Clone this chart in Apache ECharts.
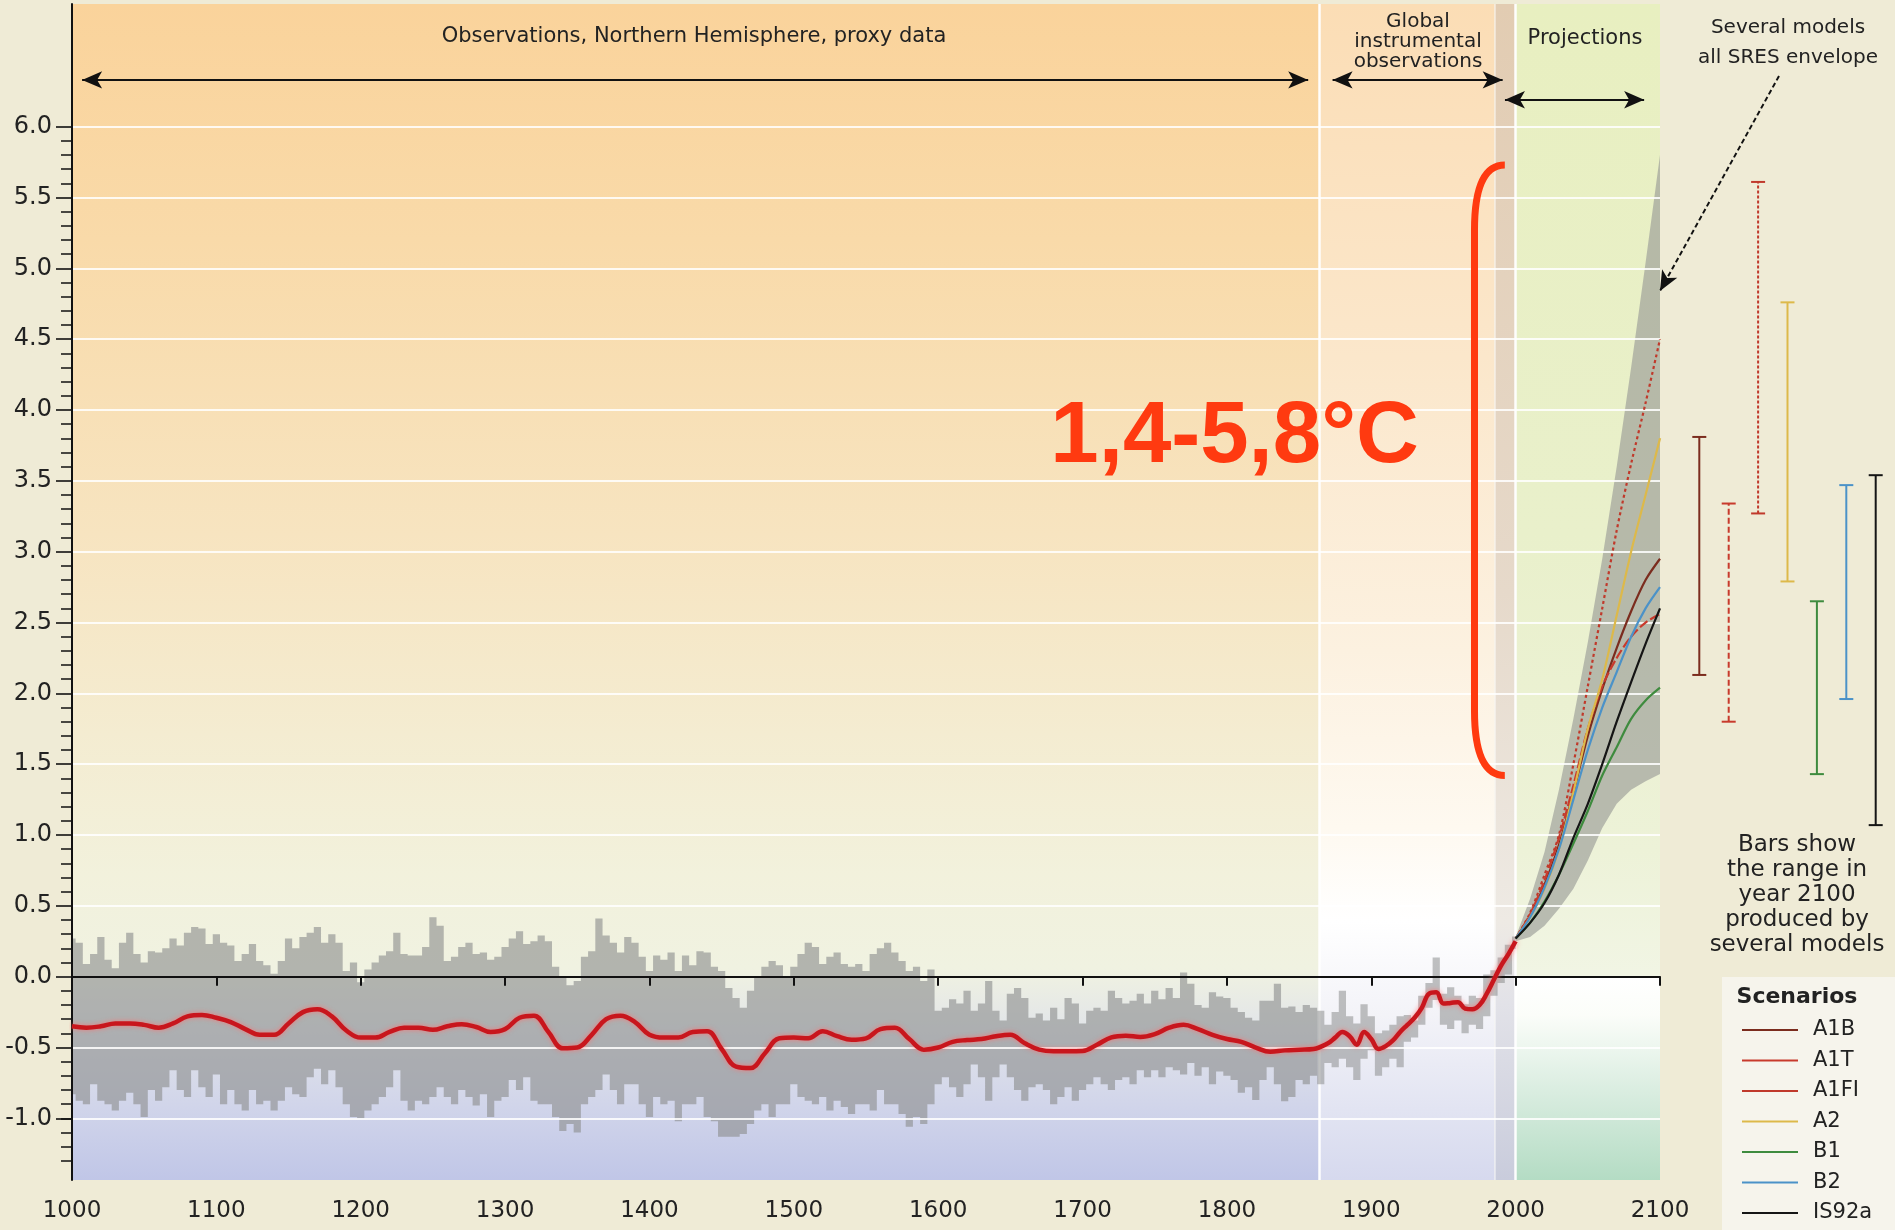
<!DOCTYPE html>
<html><head><meta charset="utf-8">
<script src="https://cdn.jsdelivr.net/npm/echarts@6/dist/echarts.min.js"></script>
<style>html,body{margin:0;padding:0;background:#EFEBD6;}#c{width:1895px;height:1230px;}</style>
</head><body><div id="c"></div>
<script>
// ---------------- DATA ----------------
// smoothed Northern Hemisphere reconstruction + instrumental (red line)
const redYears = [1000,1010,1020,1030,1040,1050,1060,1070,1080,1090,
 1100,1110,1120,1130,1140,1150,1160,1170,1180,1190,
 1200,1210,1220,1230,1240,1250,1260,1270,1280,1290,
 1300,1310,1320,1330,1340,1350,1360,1370,1380,1390,
 1400,1410,1420,1430,1440,1450,1460,1470,1480,1490,
 1500,1510,1520,1530,1540,1550,1560,1570,1580,1590,
 1600,1610,1620,1630,1640,1650,1660,1670,1680,1690,
 1700,1710,1720,1730,1740,1750,1760,1770,1780,1790,
 1800,1810,1820,1830,1840,1850,1860,
 1870,1875,1880,1885,1890,1895,1900,1905,1910,1915,1920,1925,1930,1935,1940,1945,
 1950,1955,1960,1965,1970,1975,1980,1985,1990,1995,2000];
const redValues = [-0.35,-0.36,-0.35,-0.33,-0.33,-0.34,-0.36,-0.33,-0.28,-0.27,
 -0.29,-0.32,-0.37,-0.41,-0.41,-0.33,-0.25,-0.23,-0.28,-0.38,
 -0.43,-0.43,-0.39,-0.36,-0.36,-0.375,-0.35,-0.335,-0.355,-0.39,
 -0.37,-0.29,-0.275,-0.39,-0.505,-0.5,-0.41,-0.3,-0.275,-0.32,
 -0.41,-0.43,-0.43,-0.39,-0.385,-0.51,-0.635,-0.645,-0.54,-0.435,
 -0.43,-0.435,-0.385,-0.42,-0.445,-0.435,-0.37,-0.36,-0.44,-0.515,
 -0.5,-0.46,-0.447,-0.44,-0.42,-0.41,-0.47,-0.515,-0.527,-0.527,
 -0.525,-0.48,-0.428,-0.416,-0.425,-0.405,-0.36,-0.34,-0.37,-0.41,
 -0.44,-0.46,-0.5,-0.53,-0.52,-0.515,-0.51,
 -0.47,-0.43,-0.39,-0.42,-0.48,-0.39,-0.44,-0.51,-0.49,-0.45,-0.39,-0.34,-0.29,-0.22,-0.12,-0.11,
 -0.19,-0.185,-0.18,-0.225,-0.23,-0.2,-0.12,-0.02,0.08,0.16,0.25];

// proxy uncertainty band, 1000..1860 every 5 years
const proxyStartYear = 1000, proxyStep = 5;
const proxyUpper = [0.27,0.24,0.09,0.16,0.28,0.12,0.06,0.24,0.31,0.16,
 0.10,0.18,0.17,0.20,0.27,0.22,0.31,0.35,0.34,0.23,
 0.30,0.24,0.22,0.11,0.16,0.23,0.11,0.08,0.02,0.11,
 0.27,0.20,0.28,0.31,0.35,0.24,0.30,0.24,0.04,0.10,
 -0.04,0.05,0.10,0.15,0.18,0.31,0.16,0.15,0.15,0.21,
 0.42,0.36,0.11,0.14,0.21,0.24,0.16,0.17,0.12,0.14,
 0.21,0.27,0.32,0.23,0.25,0.29,0.25,0.07,0.00,-0.06,
 -0.03,0.14,0.18,0.41,0.29,0.24,0.17,0.28,0.24,0.14,
 0.04,0.15,0.12,0.17,0.04,0.15,0.08,0.18,0.17,0.07,
 0.04,-0.08,-0.15,-0.22,-0.10,0.00,0.07,0.11,0.08,0.00,
 0.07,0.16,0.24,0.21,0.09,0.14,0.17,0.09,0.07,0.09,
 0.04,0.16,0.20,0.24,0.17,0.11,0.04,0.07,-0.03,0.05,
 -0.24,-0.22,-0.16,-0.19,-0.10,-0.24,-0.19,-0.03,-0.24,-0.31,
 -0.12,-0.08,-0.15,-0.29,-0.26,-0.31,-0.22,-0.30,-0.15,-0.19,
 -0.33,-0.24,-0.22,-0.24,-0.10,-0.15,-0.19,-0.17,-0.12,-0.19,
 -0.10,-0.16,-0.08,-0.15,0.03,-0.05,-0.20,-0.22,-0.11,-0.14,
 -0.15,-0.22,-0.25,-0.29,-0.31,-0.17,-0.17,-0.05,-0.22,-0.21,
 -0.25,-0.20,-0.22];
const proxyLower = [-0.83,-0.875,-0.90,-0.76,-0.875,-0.90,-0.945,-0.875,-0.82,-0.90,
 -0.99,-0.80,-0.875,-0.78,-0.66,-0.80,-0.85,-0.66,-0.78,-0.85,
 -0.69,-0.90,-0.80,-0.90,-0.945,-0.80,-0.90,-0.875,-0.945,-0.875,
 -0.78,-0.83,-0.85,-0.71,-0.65,-0.76,-0.66,-0.78,-0.90,-0.99,
 -1.00,-0.945,-0.90,-0.85,-0.78,-0.66,-0.875,-0.945,-0.875,-0.90,
 -0.85,-0.78,-0.85,-0.90,-0.80,-0.85,-0.91,-0.83,-0.99,-0.875,
 -0.85,-0.73,-0.80,-0.71,-0.875,-0.90,-0.90,-0.99,-1.09,-1.04,
 -1.10,-0.90,-0.85,-0.80,-0.69,-0.80,-0.90,-0.76,-0.76,-0.90,
 -0.99,-0.85,-0.90,-0.875,-1.02,-0.90,-0.90,-0.85,-0.99,-1.02,
 -1.13,-1.13,-1.13,-1.11,-1.04,-0.945,-0.90,-0.99,-0.90,-0.90,
 -0.76,-0.85,-0.875,-0.90,-0.85,-0.945,-0.875,-0.92,-0.97,-0.90,
 -0.90,-0.945,-0.80,-0.90,-0.90,-0.97,-1.06,-0.99,-1.04,-0.90,
 -0.76,-0.71,-0.78,-0.85,-0.76,-0.62,-0.71,-0.875,-0.71,-0.62,
 -0.71,-0.80,-0.875,-0.78,-0.76,-0.80,-0.90,-0.85,-0.78,-0.875,
 -0.80,-0.76,-0.71,-0.76,-0.80,-0.73,-0.71,-0.76,-0.66,-0.71,
 -0.66,-0.71,-0.64,-0.66,-0.69,-0.61,-0.70,-0.64,-0.76,-0.67,
 -0.70,-0.73,-0.82,-0.78,-0.87,-0.73,-0.64,-0.76,-0.88,-0.85,
 -0.73,-0.76,-0.70];

// instrumental band, 1865..2000 every 5 years
const instStartYear = 1865, instStep = 5;
const instUpper = [-0.24,-0.34,-0.25,-0.10,-0.28,-0.33,-0.195,-0.28,-0.40,-0.38,-0.34,-0.28,-0.27,-0.31,
 -0.135,-0.045,0.135,-0.12,-0.075,-0.135,-0.195,-0.135,-0.15,0.015,0.045,0.135,0.225,0.284];
const instLower = [-0.76,-0.61,-0.64,-0.58,-0.64,-0.73,-0.58,-0.52,-0.70,-0.64,-0.58,-0.64,-0.46,-0.43,
 -0.34,-0.22,-0.165,-0.34,-0.37,-0.31,-0.40,-0.34,-0.37,-0.28,-0.135,-0.045,0.015,0.195];

// projections 2000..2100
const projYears = [2000,2010,2020,2030,2040,2050,2060,2070,2080,2090,2100];
const envUpper = [0.28,0.55,0.88,1.32,1.82,2.36,2.95,3.6,4.3,5.04,5.8];
const envLower = [0.25,0.28,0.36,0.48,0.62,0.82,1.05,1.22,1.32,1.38,1.43];

const scenarioNames = ['A1B','A1T','A1FI','A2','B1','B2','IS92a'];
const sA1B  = [0.27,0.43,0.65,0.93,1.30,1.70,2.03,2.32,2.58,2.80,2.95];
const sA1T  = [0.27,0.44,0.68,0.98,1.35,1.75,2.05,2.25,2.40,2.50,2.56];
const sA1FI = [0.27,0.45,0.72,1.00,1.50,2.05,2.60,3.15,3.62,4.05,4.50];
const sA2   = [0.27,0.42,0.62,0.90,1.30,1.75,2.10,2.55,3.00,3.40,3.80];
const sB1   = [0.27,0.38,0.53,0.72,0.94,1.17,1.42,1.62,1.82,1.95,2.04];
const sB2   = [0.27,0.42,0.63,0.90,1.25,1.60,1.90,2.15,2.40,2.60,2.75];
const sIS92a= [0.27,0.38,0.52,0.72,0.98,1.22,1.50,1.80,2.08,2.35,2.60];
const scenarioValues = [sA1B,sA1T,sA1FI,sA2,sB1,sB2,sIS92a];

// ranges in 2100 from several models
const bar2100Low  = [2.13,1.80,3.27,2.79,1.43,1.96,1.07];
const bar2100High = [3.81,3.34,5.61,4.76,2.65,3.47,3.54];

const rangeText = '1,4-5,8°C';
const bracketRange = [1.42, 5.73];

// ---------------- STYLES ----------------
const scenStyle = [
 {color:'#7B2C1E', dash:'solid', bar:null},
 {color:'#C83A2C', dash:[10,3], bar:[6,3]},
 {color:'#C0392B', dash:[3,3], bar:[3,2]},
 {color:'#DDB94A', dash:'solid', bar:null},
 {color:'#3E8B3E', dash:'solid', bar:null},
 {color:'#4B92C8', dash:'solid', bar:null},
 {color:'#151515', dash:'solid', bar:null}
];
const Y_MIN = -1.435, Y_MAX = 6.866;
const FONT = '"DejaVu Sans", sans-serif';

function grad(stops){return {type:'linear',x:0,y:0,x2:0,y2:1,colorStops:stops.map(s=>({offset:s[0],color:s[1]}))};}
const regions = [
 [1000,1864,[[0,'#FAD39B'],[0.2,'#F9DAA9'],[0.45,'#F7E4C0'],[0.62,'#F4ECD1'],[0.74,'#F2F1DC'],[0.82,'#F0F2E1'],[0.87,'#E2E5E9'],[0.94,'#D0D4EA'],[1,'#C0C6E7']]],
 [1864,1985.5,[[0,'#FBDDB5'],[0.3,'#FBE7CB'],[0.55,'#FCF1E0'],[0.7,'#FEF9F0'],[0.78,'#FFFFFF'],[0.86,'#F3F3F8'],[0.94,'#E2E4F2'],[1,'#D6D9EE']]],
 [1985.5,2000,[[0,'#E2CCB2'],[0.5,'#E6D9CA'],[0.78,'#EEEAE4'],[0.85,'#E2E2E8'],[1,'#C9CCDC']]],
 [2000,2100,[[0,'#E8EFC0'],[0.45,'#E9F0CB'],[0.72,'#EDF2D8'],[0.826,'#F1F5E4'],[0.828,'#FFFFFF'],[0.86,'#FBFDF9'],[0.92,'#DCEEE2'],[1,'#B4DCC4']]]
];

function bandPoints(api,start,step,up,lo,xmin,xmax){
  const t=[],b=[];
  for(let i=0;i<up.length;i++){
    const yr=start+i*step;
    const a=Math.max(xmin,yr-step/2), c=Math.min(xmax,yr+step/2);
    t.push(api.coord([a,up[i]]),api.coord([c,up[i]]));
    b.push(api.coord([a,lo[i]]),api.coord([c,lo[i]]));
  }
  return t.concat(b.reverse());
}
const bandFill = 'rgba(140,142,142,0.62)';

const series = [];
// backgrounds
series.push({type:'line', data:[], xAxisIndex:0, yAxisIndex:0, silent:true,
  markArea:{silent:true, z:1, data: regions.map(r=>[{xAxis:r[0],yAxis:Y_MIN,itemStyle:{color:grad(r[2]),opacity:1,borderWidth:0}},{xAxis:r[1],yAxis:Y_MAX}])},
  markLine:{silent:true, z:1.5, symbol:['none','none'], label:{show:false},
    data:[{xAxis:1864,lineStyle:{color:'#FFFFFF',width:2.5,type:'solid',opacity:0.95}},
          {xAxis:1985.5,lineStyle:{color:'#FFFFFF',width:1.5,type:'solid',opacity:0.6}},
          {xAxis:2000,lineStyle:{color:'#FFFFFF',width:2.5,type:'solid',opacity:0.95}}]}
});
// proxy band
series.push({type:'custom', z:2, silent:true, data:[[1000,0]], renderItem:(p,api)=>{
  if(p.dataIndex!==0) return;
  return {type:'polygon', shape:{points:bandPoints(api,proxyStartYear,proxyStep,proxyUpper,proxyLower,1000,1862.5)}, style:{fill:bandFill}};
}});
// instrumental band
series.push({type:'custom', z:2, silent:true, data:[[1900,0]], renderItem:(p,api)=>{
  if(p.dataIndex!==0) return;
  return {type:'polygon', shape:{points:bandPoints(api,instStartYear,instStep,instUpper,instLower,1862.5,2000)}, style:{fill:'rgba(140,142,142,0.55)'}};
}});
// projection envelope
series.push({type:'custom', z:2, silent:true, data:[[2000,0]], renderItem:(p,api)=>{
  if(p.dataIndex!==0) return;
  const pts=[];
  projYears.forEach((y,i)=>pts.push(api.coord([y,envUpper[i]])));
  for(let i=projYears.length-1;i>=0;i--) pts.push(api.coord([projYears[i],envLower[i]]));
  return {type:'polygon', shape:{points:pts}, style:{fill:'rgba(150,152,148,0.62)'}};
}});
// red line
series.push({type:'line', name:'NH', z:5, smooth:0.4, symbol:'none', silent:true,
  data: redYears.map((y,i)=>[y,redValues[i]]),
  lineStyle:{color:'#C8161D', width:4.5, shadowColor:'rgba(255,110,110,0.8)', shadowBlur:5}});
// scenarios
scenarioNames.forEach((n,i)=>{
  series.push({type:'line', name:n, z:5, smooth:0.3, symbol:'none', silent:true, color:scenStyle[i].color,
    data: projYears.map((y,k)=>[y,scenarioValues[i][k]]),
    lineStyle:{color:scenStyle[i].color, width:2.2, type:scenStyle[i].dash}});
});
// bracket + big text
series.push({type:'custom', z:6, silent:true, data:[[1971.5,0]], renderItem:(p,api)=>{
  if(p.dataIndex!==0) return;
  const top=api.coord([1992.5,bracketRange[1]]), bot=api.coord([1992.5,bracketRange[0]]);
  const vx=api.coord([1971.5,0])[0];
  const r=65;
  const d=`M ${top[0]} ${top[1]} Q ${vx} ${top[1]} ${vx} ${top[1]+r} L ${vx} ${bot[1]-r} Q ${vx} ${bot[1]} ${bot[0]} ${bot[1]}`;
  const tp=api.coord([1805.3,3.80]);
  return {type:'group', children:[
    {type:'path', shape:{pathData:d}, style:{stroke:'#FF3A10', lineWidth:7, fill:null, lineCap:'butt'}},
    {type:'text', x:tp[0], y:tp[1], style:{text:rangeText, font:'bold 87px "Liberation Sans", Arial, sans-serif', fill:'#FF3A10', align:'center', verticalAlign:'middle'}}
  ]};
}});
// range bars in 2100
series.push({type:'custom', xAxisIndex:3, yAxisIndex:3, z:5, silent:true,
  data: scenarioNames.map((n,i)=>[i,bar2100Low[i],bar2100High[i]]),
  renderItem:(p,api)=>{
    const i=api.value(0), lo=api.coord([i,api.value(1)]), hi=api.coord([i,api.value(2)]);
    const st=scenStyle[i], cap=7;
    const ls={stroke:st.color, lineWidth:2};
    return {type:'group', children:[
      {type:'line', shape:{x1:lo[0],y1:lo[1],x2:hi[0],y2:hi[1]}, style:Object.assign({},ls,st.bar?{lineDash:st.bar}:{})},
      {type:'line', shape:{x1:hi[0]-cap,y1:hi[1],x2:hi[0]+cap,y2:hi[1]}, style:ls},
      {type:'line', shape:{x1:lo[0]-cap,y1:lo[1],x2:lo[0]+cap,y2:lo[1]}, style:ls}
    ]};
  }});
// arrows
series.push({type:'line', data:[], silent:true,
  markLine:{silent:true, z:6, symbol:['arrow','arrow'], symbolSize:[13,20], label:{show:false},
    lineStyle:{color:'#111', width:2, type:'solid'},
    data:[
      [{coord:[1007,6.33]},{coord:[1856.3,6.33]}],
      [{coord:[1873.2,6.33]},{coord:[1991,6.33]}],
      [{coord:[1992.6,6.19]},{coord:[2089,6.19]}],
      [{x:1779,y:76,symbol:'none',lineStyle:{type:[5,3],width:2,color:'#111'}},{x:1660,y:291,symbol:'arrow'}]
    ]}});

const option = {
  animation:false,
  backgroundColor:'#EFEBD6',
  grid:[
    {left:72,right:235,top:4,bottom:50},
    {left:72,right:235,top:126.68,bottom:111.63},
    {left:72,right:235,top:1118.37,bottom:69.13},
    {left:1684.6,width:205.8,top:4,bottom:50}
  ],
  xAxis:[
    {gridIndex:0,type:'value',min:1000,max:2100,interval:100,z:4,
     axisLine:{lineStyle:{color:'#111',width:2}},
     axisTick:{length:9,lineStyle:{color:'#111',width:2}},
     axisLabel:{fontFamily:FONT,fontSize:23,color:'#222',margin:20,formatter:v=>String(v)},
     splitLine:{show:false}},
    {gridIndex:1,type:'value',min:1000,max:2100,show:false},
    {gridIndex:2,type:'value',min:1000,max:2100,show:false},
    {gridIndex:3,type:'category',data:scenarioNames,show:false}
  ],
  yAxis:[
    {gridIndex:0,type:'value',min:Y_MIN,max:Y_MAX,z:4,
     axisLine:{show:true,lineStyle:{color:'#111',width:2}},
     axisTick:{show:false},axisLabel:{show:false},splitLine:{show:false}},
    {gridIndex:1,type:'value',min:-1,max:6,interval:0.5,z:3,
     axisLine:{show:false},
     axisTick:{show:true,length:16,lineStyle:{color:'#111',width:1.6}},
     minorTick:{show:true,splitNumber:5,length:11,lineStyle:{color:'#111',width:1.5}},
     axisLabel:{fontFamily:FONT,fontSize:24,color:'#222',margin:20,formatter:v=>v.toFixed(1)},
     splitLine:{show:true,lineStyle:{color:'rgba(255,255,255,0.85)',width:2}}},
    {gridIndex:2,type:'value',min:-1.3,max:-1.0,interval:0.1,z:3,
     axisLine:{show:false},axisLabel:{show:false},splitLine:{show:false},
     axisTick:{show:true,length:11,lineStyle:{color:'#111',width:1.5}}},
    {gridIndex:3,type:'value',min:Y_MIN,max:Y_MAX,show:false}
  ],
  legend:{data:scenarioNames,orient:'vertical',left:1742,top:1019,padding:0,itemGap:8.5,
    icon:'rect',itemWidth:56,itemHeight:2,selectedMode:false,z:5,
    textStyle:{fontFamily:FONT,fontSize:21,color:'#222',lineHeight:22,padding:[0,0,0,10]}},
  graphic:[
    {type:'rect',z:0,shape:{x:1722,y:977,width:173,height:253},style:{fill:'#F6F4EC'},silent:true},
    {type:'text',z:10,x:694,y:37,style:{text:'Observations, Northern Hemisphere, proxy data',font:'21px '+FONT,fill:'#222',align:'center',verticalAlign:'middle'}},
    {type:'text',z:10,x:1418,y:12,style:{text:'Global\ninstrumental\nobservations',font:'20px '+FONT,fill:'#222',align:'center',verticalAlign:'top',lineHeight:20}},
    {type:'text',z:10,x:1585,y:39,style:{text:'Projections',font:'21px '+FONT,fill:'#222',align:'center',verticalAlign:'middle'}},
    {type:'text',z:10,x:1788,y:13,style:{text:'Several models\nall SRES envelope',font:'20px '+FONT,fill:'#222',align:'center',verticalAlign:'top',lineHeight:30}},
    {type:'text',z:10,x:1797,y:833,style:{text:'Bars show\nthe range in\nyear 2100\nproduced by\nseveral models',font:'23px '+FONT,fill:'#222',align:'center',verticalAlign:'top',lineHeight:25}},
    {type:'text',z:10,x:1797,y:997,style:{text:'Scenarios',font:'bold 22px '+FONT,fill:'#222',align:'center',verticalAlign:'middle'}}
  ],
  series: series
};
const chart = echarts.init(document.getElementById('c'));
chart.setOption(option);
</script></body></html>
